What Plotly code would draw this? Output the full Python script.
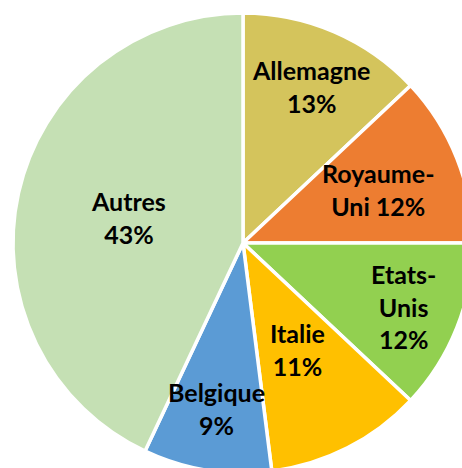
import math
import plotly.graph_objects as go

countries = ["Allemagne", "Royaume-Uni", "Etats-Unis", "Italie", "Belgique", "Autres"]
shares = [13, 12, 12, 11, 9, 43]
label_lines = ["Allemagne", "Royaume-<br>Uni", "Etats-<br>Unis", "Italie", "Belgique", "Autres"]
label_seps = ["<br>", " ", "<br>", "<br>", "<br>", "<br>"]
colors = ["#D4C45C", "#ED7D31", "#92D050", "#FFC000", "#5B9BD5", "#C5E0B4"]
# radial placement of each label, as a fraction of the pie radius (style)
label_radius = [0.74, 0.63, 0.75, 0.52, 0.73, 0.51]

texts = [f"{l}{s}{v}%" for l, s, v in zip(label_lines, label_seps, shares)]

W, H = 480, 480
cx, cy, R = 243, 243, 230

fig = go.Figure(go.Pie(
    labels=countries,
    values=shares,
    textinfo="none",
    sort=False,
    direction="clockwise",
    rotation=0,
    marker=dict(colors=colors, line=dict(color="white", width=3.5)),
    hoverinfo="label+percent",
    domain=dict(x=[(cx - R) / W, (cx + R) / W], y=[1 - (cy + R) / H, 1 - (cy - R) / H]),
))

total = sum(shares)
cum = 0
for txt, v, rf in zip(texts, shares, label_radius):
    mid = (cum + v / 2) / total * 2 * math.pi
    cum += v
    px = cx + rf * R * math.sin(mid)
    py = cy - rf * R * math.cos(mid)
    fig.add_annotation(
        x=px / W, y=1 - py / H, xref="paper", yref="paper",
        text=txt, showarrow=False, xanchor="center", yanchor="middle",
        font=dict(family="Lato", size=25, color="black", weight="bold"),
    )

fig.update_layout(
    width=W, height=H,
    margin=dict(l=0, r=0, t=0, b=0),
    showlegend=False,
    paper_bgcolor="white",
)
fig.write_html(
    "out.html",
    config={"displayModeBar": False},
    post_script="document.body.style.margin='0';document.body.style.overflow='hidden';document.documentElement.style.overflow='hidden';",
)
